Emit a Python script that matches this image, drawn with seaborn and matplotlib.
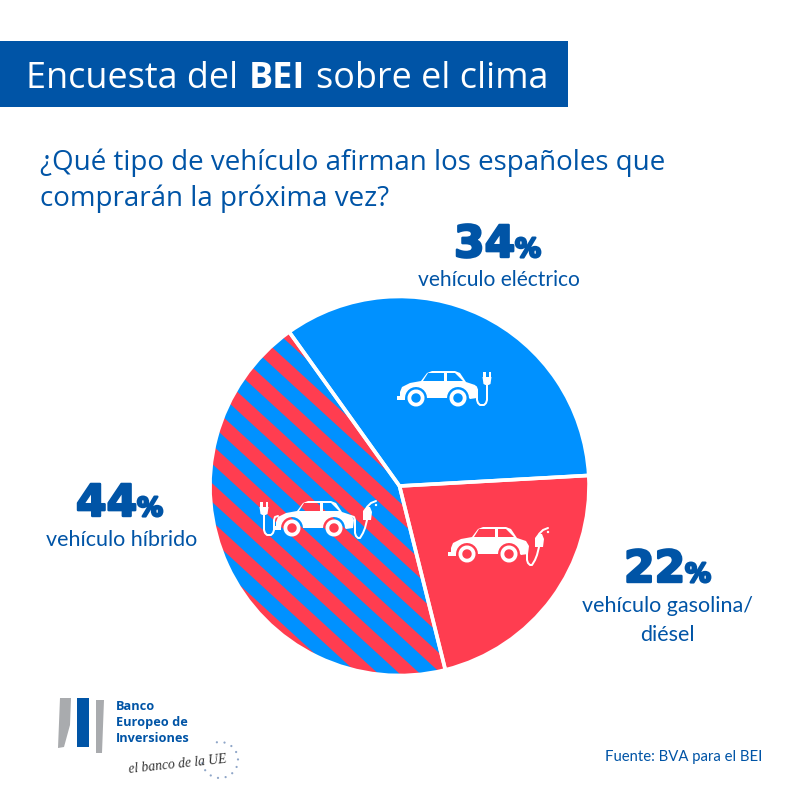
# -*- coding: utf-8 -*-
import numpy as np
import seaborn as sns
import matplotlib.pyplot as plt
import matplotlib.patheffects as pe
from matplotlib.patches import Circle, PathPatch, Polygon, Rectangle, Wedge
from matplotlib.path import Path

# datos
labels = ['vehículo eléctrico', 'vehículo híbrido', 'vehículo gasolina/\ndiésel']
values = [34, 44, 22]
pct_labels = ['34', '44', '22']

BLUE = '#0091FF'
RED = '#FF3D50'
DARK = '#0054A6'
GREY = '#A9ABAE'

sns.set_theme(style='white')
plt.rcParams['font.family'] = ['Open Sans', 'DejaVu Sans']


def py(y):
    # y de la imagen (arriba) a y del eje (abajo)
    return 800 - y


def txt(x, y, s, size, **kw):
    kw.setdefault('color', DARK)
    kw.setdefault('va', 'baseline')
    return ax.text(x, py(y), s, fontsize=size * 0.5, **kw)


def car(cx, cy):
    outline = [(-37, 7), (-35, 2), (-27, -2), (-16, -4), (-10, -12), (-5, -14), (18, -14), (23, -12),
               (29, -3), (38, 0), (41, 5), (40, 13), (33, 14)]
    for wx in (21, -21):
        outline += [(wx + 11 * np.cos(a), 13 - 11 * np.sin(a)) for a in np.radians(np.arange(0, 181, 15))]
    outline += [(-33, 14), (-37, 14)]
    win1 = [(-14, -4), (-9, -12), (7, -12), (7, -4)]
    win2 = [(10, -4), (10, -12), (18, -12), (26, -4)]
    verts, codes = [], []
    for poly, rev in ((outline, False), (win1, True), (win2, True)):
        p = poly[::-1] if rev else poly
        verts += [(cx + a, py(cy + b)) for a, b in p] + [(0, 0)]
        codes += [Path.MOVETO] + [Path.LINETO] * (len(p) - 1) + [Path.CLOSEPOLY]
    ax.add_patch(PathPatch(Path(verts, codes), fc='white', ec='none', zorder=5))
    ax.add_patch(Rectangle((cx - 40, py(cy + 15)), 8, 4, fc='white', ec='none', zorder=5))
    for dx in (-21, 21):
        ax.add_patch(Wedge((cx + dx, py(cy + 13)), 8.5, 0, 360, width=3.8, fc='white', ec='none', zorder=7))


def plug(x, y, flip=1):
    # enchufe con su cable, (x, y) es la base de la clavija
    ax.add_patch(Polygon([(x - 4.5, py(y - 8)), (x + 4.5, py(y - 8)), (x + 3.5, py(y - 1)), (x + 1.5, py(y)),
                          (x - 1.5, py(y)), (x - 3.5, py(y - 1))], fc='white', ec='none', zorder=5))
    for dx in (-4, 1.5):
        ax.add_patch(Rectangle((x + dx, py(y - 8)), 2.5, 5.5, fc='white', ec='none', zorder=5))
    dxs = np.array([0, 0, -1, -3, -7, -9, -10, -10, -11, -14]) * flip
    dys = np.array([0, 15, 18, 20, 20, 18, 15, 5, 2, 1])
    ax.plot(x + dxs, py(y + dys), color='white', lw=1, zorder=5)


def pump(x, y):
    # manguera de gasolina, (x, y) es la base del surtidor
    ax.add_patch(Polygon([(x - 4, py(y)), (x - 4, py(y - 9)), (x - 1, py(y - 13)), (x + 3, py(y - 13)),
                          (x + 5, py(y - 8)), (x + 4, py(y))], fc='white', ec='none', zorder=5))
    ax.plot([x, x + 4, x + 9], [py(y - 13), py(y - 17), py(y - 19)], color='white', lw=1, zorder=5)
    ax.add_patch(Circle((x + 9, py(y - 15)), 1.2, fc='white', ec='none', zorder=5))
    dxs = np.array([0, -2, -4, -7, -9, -11, -12, -12, -13, -16])
    dys = np.array([0, 8, 13, 18, 18, 16, 13, 0, -3, -4])
    ax.plot(x + dxs, py(y + dys), color='white', lw=1, zorder=4)


fig = plt.figure(figsize=(800 / 144, 800 / 144), dpi=144)
ax = fig.add_axes([0, 0, 1, 1])

# la tarta
pie_colors = sns.color_palette([BLUE, BLUE, RED])
center = (399.5, py(486))
wedges, _ = ax.pie(values, colors=pie_colors, startangle=3.2, counterclock=True,
                   center=center, radius=189.5, frame=True,
                   wedgeprops={'linewidth': 0})

# rayas rojas del segmento híbrido
for k in range(-6, 8):
    x0 = 240 + k * 41.7
    line, = ax.plot([x0 - 300, x0 + 300], [py(480 - 300 * 0.916), py(480 + 300 * 0.916)],
                    color=RED, lw=6.9, solid_capstyle='butt', zorder=2)
    line.set_clip_path(wedges[1])

outline, _ = ax.pie(values, colors=['none'] * 3, startangle=3.2, center=center, radius=189.5, frame=True,
                    wedgeprops={'linewidth': 1.8, 'edgecolor': 'white', 'fill': False})
for w in outline:
    w.set_zorder(3)
ax.set_xlim(0, 800)
ax.set_ylim(0, 800)
ax.axis('off')

# iconos
car(437, 385)
plug(487, 385)
car(313, 515)
plug(264, 515, flip=-1)
pump(367, 520)
car(488, 541)
pump(539, 547)

# cabecera
ax.add_patch(Rectangle((0, py(107)), 568, 66, fc=DARK, ec='none'))
txt(26, 88, 'Encuesta del', 36, color='white')
txt(249, 88, 'BEI', 36, color='white', fontweight='bold')
txt(316, 88, 'sobre el clima', 36, color='white')
txt(40, 170, '¿Qué tipo de vehículo afirman los españoles que', 27.7)
txt(40, 206, 'comprarán la próxima vez?', 27.7)

# porcentajes y etiquetas
narrow = ['Lato', 'DejaVu Sans']
stroke = [pe.withStroke(linewidth=1.2, foreground=DARK)]
for x, y, pct in zip([454, 76, 624], [257, 516, 582], pct_labels):
    txt(x, y, pct, 44, fontweight='bold', family=['DejaVu Sans'], path_effects=stroke)
    txt(x + 61, y, '%', 26, fontweight='bold', family=['DejaVu Sans'], path_effects=stroke)
txt(499, 286, labels[0], 21, ha='center', family=narrow)
txt(122, 546, labels[1], 21.5, ha='center', family=narrow)
gas_lines = labels[2].split('\n')
txt(667, 612, gas_lines[0], 21.5, ha='center', family=narrow)
txt(667, 641, gas_lines[1], 21.5, ha='center', family=narrow)

# logo
ax.add_patch(Polygon([(60, py(698)), (71, py(698)), (70, py(725)), (64, py(747)), (58, py(748))], fc=GREY, ec='none'))
ax.add_patch(Rectangle((77, py(747)), 12, 49, fc=DARK, ec='none'))
ax.add_patch(Polygon([(96, py(700)), (104, py(700)), (102, py(753)), (96, py(753))], fc=GREY, ec='none'))
for y, s in zip([710, 726, 742], ['Banco', 'Europeo de', 'Inversiones']):
    txt(116, y, s, 12.8, fontweight='bold')
ax.text(129, py(773), 'el banco de la UE', fontsize=6.8, style='italic', family=['Liberation Serif'],
        color='#333333', rotation=6, rotation_mode='anchor')
for a in np.linspace(-100, 170, 12):
    ax.add_patch(Circle((220 + 18 * np.cos(np.radians(a)), py(760) - 18 * np.sin(np.radians(a))), 1.1,
                        fc='#8FA6C8', ec='none'))

txt(605, 761, 'Fuente: BVA para el BEI', 14.9, family=narrow)

fig.savefig('out.png', dpi=144, facecolor='white')
